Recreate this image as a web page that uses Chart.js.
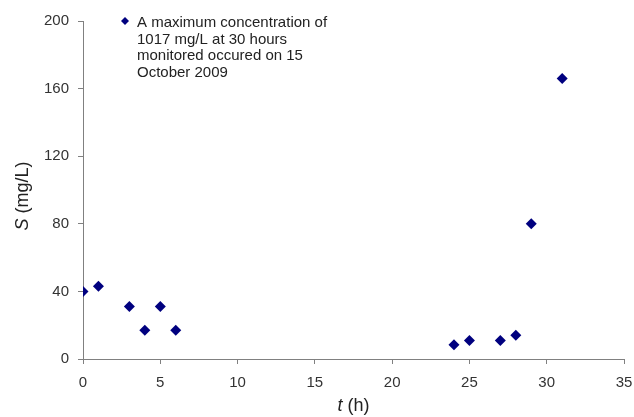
<!DOCTYPE html>
<html>
<head>
<meta charset="utf-8">
<script src="https://cdn.jsdelivr.net/npm/chart.js@4/dist/chart.umd.min.js"></script>
<style>
  html, body { margin: 0; padding: 0; background: #fff; }
  #wrap { width: 634px; height: 417px; }
</style>
</head>
<body>
<div id="wrap"><canvas id="myChart" width="634" height="417"></canvas></div>
<script>
// data
const tHours = [0, 1, 3, 4, 5, 6, 24, 25, 27, 28, 29, 31];
const concentration = [40, 43, 31, 17, 31, 17, 8.5, 11, 11, 14, 80, 166];
const legendLines = [
  'A maximum concentration of',
  '1017 mg/L at 30 hours',
  'monitored occured on 15',
  'October 2009'
];
const xTicks = [0, 5, 10, 15, 20, 25, 30, 35];
const yTicks = [0, 40, 80, 120, 160, 200];

const FONT = "'Liberation Sans', Arial, sans-serif";
const MARK = '#00007f';

// legend inside the plot + axis titles with italic symbol
const extras = {
  id: 'extras',
  afterDraw(chart) {
    const ctx = chart.ctx;
    const area = chart.chartArea;
    ctx.save();

    // legend
    ctx.fillStyle = MARK;
    ctx.beginPath();
    const mx = 125, my = 21, r = 4;
    ctx.moveTo(mx, my - r);
    ctx.lineTo(mx + r, my);
    ctx.lineTo(mx, my + r);
    ctx.lineTo(mx - r, my);
    ctx.closePath();
    ctx.fill();
    ctx.fillStyle = '#222';
    ctx.font = '15px ' + FONT;
    ctx.textBaseline = 'alphabetic';
    ctx.textAlign = 'left';
    legendLines.forEach((l, i) => ctx.fillText(l, 137, 27 + i * 16.7));

    // x title: t (h)
    ctx.textBaseline = 'middle';
    ctx.font = 'italic 18px ' + FONT;
    const wa = ctx.measureText('t').width;
    ctx.font = '18px ' + FONT;
    const wb = ctx.measureText(' (h)').width;
    let x0 = (area.left + area.right) / 2 - (wa + wb) / 2;
    ctx.fillStyle = '#222';
    ctx.font = 'italic 18px ' + FONT;
    ctx.fillText('t', x0, 406);
    ctx.font = '18px ' + FONT;
    ctx.fillText(' (h)', x0 + wa, 406);

    // y title: S (mg/L)
    ctx.translate(23, 196);
    ctx.rotate(-Math.PI / 2);
    ctx.font = 'italic 18px ' + FONT;
    const wS = ctx.measureText('S').width;
    ctx.font = '18px ' + FONT;
    const wR = ctx.measureText(' (mg/L)').width;
    x0 = -(wS + wR) / 2;
    ctx.font = 'italic 18px ' + FONT;
    ctx.fillText('S', x0, 0);
    ctx.font = '18px ' + FONT;
    ctx.fillText(' (mg/L)', x0 + wS, 0);

    ctx.restore();
  }
};

new Chart(document.getElementById('myChart'), {
  type: 'scatter',
  data: {
    datasets: [{
      label: legendLines.join(' '),
      data: tHours.map((t, i) => ({ x: t, y: concentration[i] })),
      pointStyle: 'rectRot',
      pointRadius: 5.5,
      pointHoverRadius: 5.5,
      backgroundColor: MARK,
      borderColor: MARK,
      borderWidth: 0
    }]
  },
  plugins: [extras],
  options: {
    responsive: false,
    animation: false,
    layout: { padding: { left: 0, top: 21, right: 10, bottom: 0 } },
    plugins: {
      legend: { display: false },
      tooltip: { enabled: false }
    },
    scales: {
      x: {
        type: 'linear',
        min: 0,
        max: 35,
        afterBuildTicks: s => { s.ticks = xTicks.map(v => ({ value: v })); },
        afterFit: s => { s.height = 58; s.paddingRight = 0; s.paddingLeft = 0; },
        border: { color: '#808080', width: 1 },
        grid: { drawOnChartArea: false, drawTicks: true, tickLength: 5, color: '#808080' },
        ticks: { padding: 10, color: '#333', font: { family: FONT, size: 15 } }
      },
      y: {
        min: 0,
        max: 200,
        afterBuildTicks: s => { s.ticks = yTicks.map(v => ({ value: v })); },
        afterFit: s => { s.width = 83; },
        border: { color: '#808080', width: 1 },
        grid: { drawOnChartArea: false, drawTicks: true, tickLength: 5, color: '#808080' },
        ticks: { padding: 9, color: '#333', font: { family: FONT, size: 15 } }
      }
    }
  }
});
</script>
</body>
</html>
